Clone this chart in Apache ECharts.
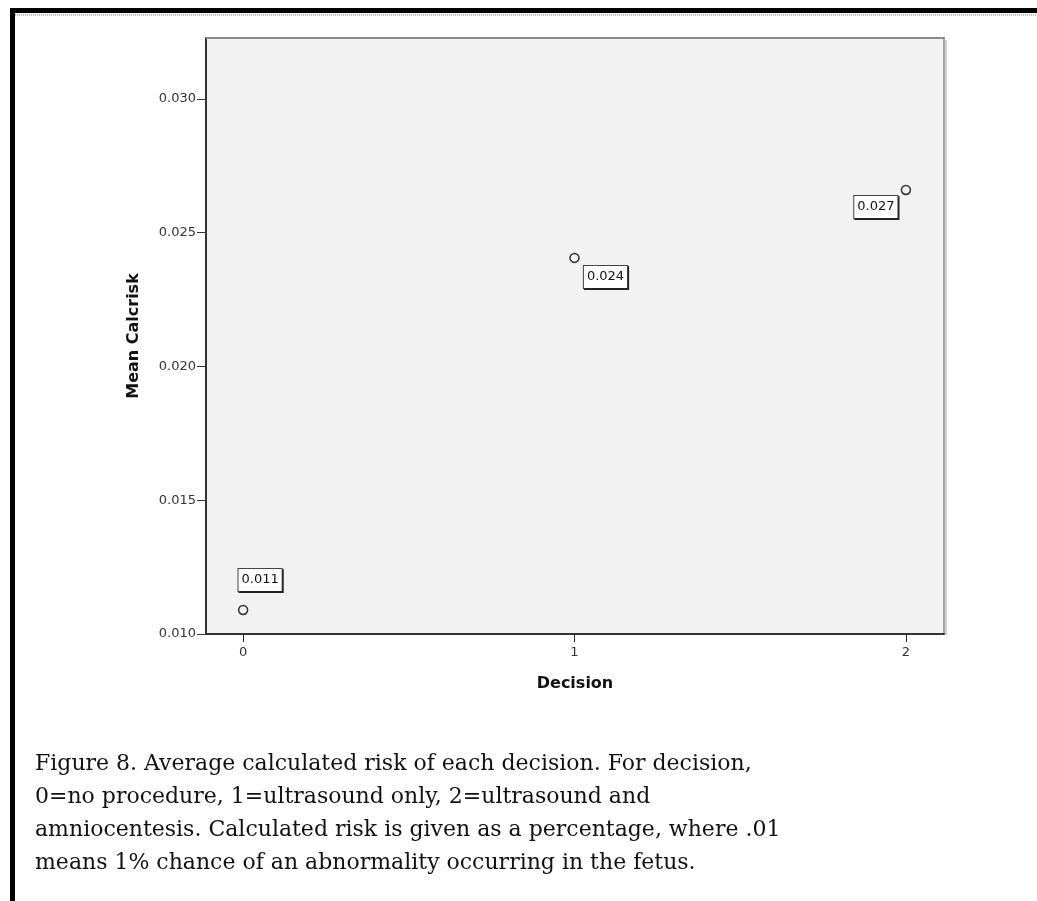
<!DOCTYPE html>
<html>
<head>
<meta charset="utf-8">
<script src="https://cdn.jsdelivr.net/npm/echarts@6/dist/echarts.min.js"></script>
<style>
html,body{margin:0;padding:0;background:#fff;}
#chart{width:1037px;height:901px;}
</style>
</head>
<body>
<div id="chart"></div>
<script>
// Data
var decisions = [0, 1, 2];
var meanCalcrisk = [0.0109, 0.02406, 0.0266];
var pointLabels = ['0.011', '0.024', '0.027'];
var yTicks = [0.010, 0.015, 0.020, 0.025, 0.030];
var xTicks = [0, 1, 2];
var captionLines = [
  'Figure 8. Average calculated risk of each decision. For decision,',
  '0=no procedure, 1=ultrasound only, 2=ultrasound and',
  'amniocentesis. Calculated risk is given as a percentage, where .01',
  'means 1% chance of an abnormality occurring in the fetus.'
];
// label offsets (style, not data)
var labelOffsets = [[17, -30], [31, 19], [-30, 17]];

var chart = echarts.init(document.getElementById('chart'), null, {renderer: 'canvas'});

var seriesData = decisions.map(function (d, i) {
  return {
    value: [d, meanCalcrisk[i]],
    label: {
      show: true,
      formatter: pointLabels[i],
      position: 'inside',
      offset: labelOffsets[i]
    }
  };
});

var graphics = [
  {type: 'rect', shape: {x: 10, y: 8, width: 1027, height: 5}, style: {fill: '#000'}, z: 100},
  {type: 'line', shape: {x1: 15, y1: 15, x2: 1037, y2: 15}, style: {stroke: '#bbb', lineWidth: 2, lineDash: [1, 1]}, z: 100},
  {type: 'rect', shape: {x: 10, y: 8, width: 5, height: 893}, style: {fill: '#000'}, z: 100},
  {type: 'rect', shape: {x: 945, y: 40, width: 2, height: 595}, style: {fill: '#cfcfcf'}, z: 5},
  {type: 'rect', shape: {x: 206, y: 37, width: 739, height: 2}, style: {fill: '#8a8a8a'}, z: 6}
];
captionLines.forEach(function (t, i) {
  graphics.push({
    type: 'text',
    left: 35,
    top: 753 + i * 33,
    style: {
      text: t,
      fill: '#111',
      font: '22px "DejaVu Serif", serif'
    },
    z: 50
  });
});
graphics.push({type: 'rect', shape: {x: 16, y: 882, width: 1021, height: 19}, style: {fill: '#fff'}, z: 60});

var option = {
  backgroundColor: '#ffffff',
  animation: false,
  grid: {
    left: 206, top: 38, width: 738, height: 596,
    show: true,
    backgroundColor: '#f2f2f2',
    borderColor: '#555',
    borderWidth: 1
  },
  xAxis: {
    type: 'value',
    min: -0.112,
    max: 2.115,
    name: 'Decision',
    nameLocation: 'middle',
    nameGap: 42,
    nameTextStyle: {fontFamily: 'DejaVu Sans', fontWeight: 'bold', fontSize: 16, color: '#111'},
    axisLine: {show: true, onZero: false, lineStyle: {color: '#333', width: 2}},
    axisTick: {show: true, length: 8, customValues: xTicks, lineStyle: {color: '#222', width: 1}},
    axisLabel: {
      customValues: xTicks,
      fontFamily: 'DejaVu Sans', fontSize: 13, color: '#333', margin: 12
    },
    splitLine: {show: false}
  },
  yAxis: {
    type: 'value',
    min: 0.010,
    max: 0.03228,
    name: 'Mean Calcrisk',
    nameLocation: 'middle',
    nameGap: 64,
    nameTextStyle: {fontFamily: 'DejaVu Sans', fontWeight: 'bold', fontSize: 16, color: '#111'},
    axisLine: {show: true, onZero: false, lineStyle: {color: '#333', width: 2}},
    axisTick: {show: true, length: 9, customValues: yTicks, lineStyle: {color: '#333', width: 1}},
    axisLabel: {
      customValues: yTicks,
      formatter: function (v) { return v.toFixed(3); },
      fontFamily: 'DejaVu Sans', fontSize: 13, color: '#333', margin: 10
    },
    splitLine: {show: false}
  },
  graphic: graphics,
  series: [{
    type: 'scatter',
    symbol: 'circle',
    symbolSize: 9,
    itemStyle: {color: 'transparent', borderColor: '#333', borderWidth: 1.5, opacity: 1},
    label: {
      fontFamily: 'DejaVu Sans', fontSize: 13, color: '#111',
      opacity: 1,
      backgroundColor: '#ffffff',
      borderColor: '#444', borderWidth: 1,
      padding: [5, 3, 4, 3],
      shadowColor: '#222', shadowOffsetX: 1, shadowOffsetY: 1, shadowBlur: 0
    },
    data: seriesData,
    z: 10
  }]
};
chart.setOption(option);
</script>
</body>
</html>
